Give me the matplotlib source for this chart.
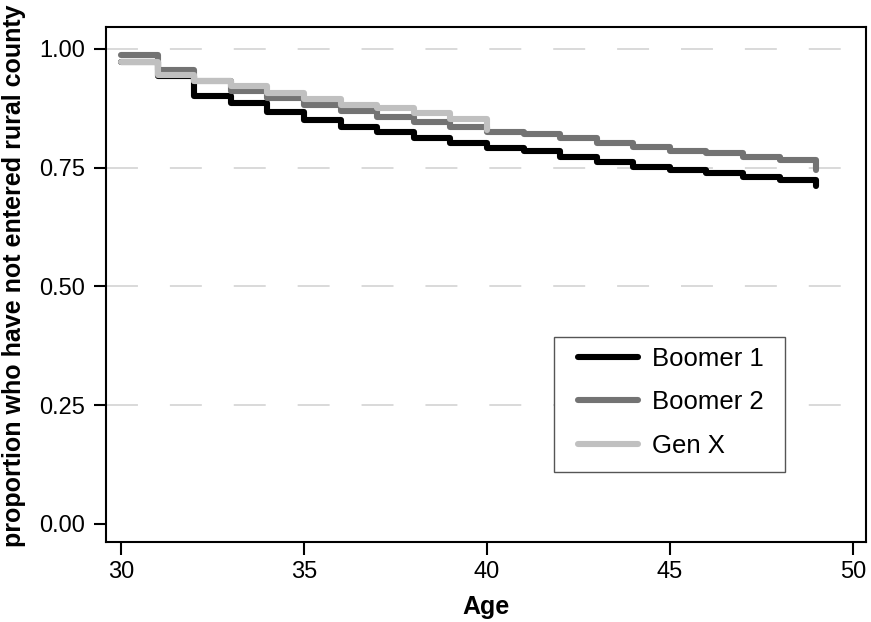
import matplotlib
matplotlib.use("Agg")
import matplotlib.pyplot as plt
from matplotlib.patches import Rectangle
from matplotlib.transforms import IdentityTransform

plt.rcParams['font.family'] = ['Liberation Sans', 'DejaVu Sans']
plt.rcParams['lines.scale_dashes'] = False

# ---- data ----
ages_boomer1 = [30, 31, 32, 33, 34, 35, 36, 37, 38, 39, 40, 41, 42, 43, 44, 45, 46, 47, 48, 49]
surv_boomer1 = [0.972, 0.942, 0.900, 0.886, 0.868, 0.850, 0.836, 0.824, 0.812, 0.802,
                0.792, 0.784, 0.772, 0.762, 0.752, 0.746, 0.739, 0.731, 0.723, 0.712]

ages_boomer2 = [30, 31, 32, 33, 34, 35, 36, 37, 38, 39, 40, 41, 42, 43, 44, 45, 46, 47, 48, 49]
surv_boomer2 = [0.986, 0.955, 0.933, 0.912, 0.896, 0.882, 0.869, 0.857, 0.845, 0.835,
                0.826, 0.820, 0.812, 0.801, 0.793, 0.786, 0.780, 0.772, 0.765, 0.746]

ages_genx = [30, 31, 32, 33, 34, 35, 36, 37, 38, 39, 40]
surv_genx = [0.973, 0.945, 0.933, 0.922, 0.907, 0.894, 0.882, 0.876, 0.864, 0.853, 0.830]

series_labels = ["Boomer 1", "Boomer 2", "Gen X"]
series_colors = ["#000000", "#737373", "#c0c0c0"]

x_ticks = [30, 35, 40, 45, 50]
y_ticks = [0.00, 0.25, 0.50, 0.75, 1.00]
y_tick_labels = ["0.00", "0.25", "0.50", "0.75", "1.00"]

# ---- figure ----
W, H = 871, 622
fig = plt.figure(figsize=(W / 100, H / 100), dpi=100)
ax_l, ax_r, ax_t, ax_b = 106, 866, 26.5, 542
ax = fig.add_axes([ax_l / W, 1 - ax_b / H, (ax_r - ax_l) / W, (ax_b - ax_t) / H])

ax.set_xlim(29.59, 50.36)
ax.set_ylim(-0.038, 1.047)

# dashed grid (no line at 0.00)
for yv in y_ticks[1:]:
    ax.axhline(yv, color="#cfcfcf", linewidth=1.1, dashes=(23, 23), zorder=1)

lw = 4.4
for xs, ys, lab, col in zip([ages_boomer1, ages_boomer2, ages_genx],
                            [surv_boomer1, surv_boomer2, surv_genx],
                            series_labels, series_colors):
    ax.step(xs, ys, where="post", color=col, linewidth=lw, label=lab,
            solid_capstyle="round", solid_joinstyle="round", zorder=3)

ax.set_xticks(x_ticks)
ax.set_yticks(y_ticks)
ax.set_yticklabels(y_tick_labels)
ax.tick_params(axis="both", direction="out", length=9, width=1.5, labelsize=17,
               colors="black")
ax.tick_params(axis="x", pad=5)
ax.tick_params(axis="y", pad=6)
for sp in ax.spines.values():
    sp.set_linewidth(1.5)
    sp.set_color("black")

ax.set_xlabel("Age", fontsize=18, fontweight="bold")
ax.set_ylabel("proportion who have not entered rural county", fontsize=18,
              fontweight="bold")
ax.xaxis.set_label_coords(0.5, -0.102)
ax.yaxis.set_label_coords(-0.105, 0.516)

# legend (frame drawn separately to get the wider side padding of the reference)
def px_to_ax(px, py):
    return ((px - ax_l) / (ax_r - ax_l), (ax_b - py) / (ax_b - ax_t))

leg = ax.legend(loc="upper left", bbox_to_anchor=px_to_ax(578, 346.5),
                fontsize=18.5, frameon=False, handlelength=2.35,
                handletextpad=0.54, labelspacing=0.76, borderpad=0,
                borderaxespad=0)
for line in leg.get_lines():
    line.set_linewidth(lw)
    line.set_solid_capstyle("round")
leg.set_zorder(6)

fx0, fy0, fx1, fy1 = 554, 337, 785, 472
frame = Rectangle((fx0, H - fy1), fx1 - fx0, fy1 - fy0,
                  transform=IdentityTransform(), clip_on=False,
                  facecolor="white", edgecolor="#555555", linewidth=1.0, zorder=5)
ax.add_patch(frame)

fig.savefig("out.png", dpi=100)
